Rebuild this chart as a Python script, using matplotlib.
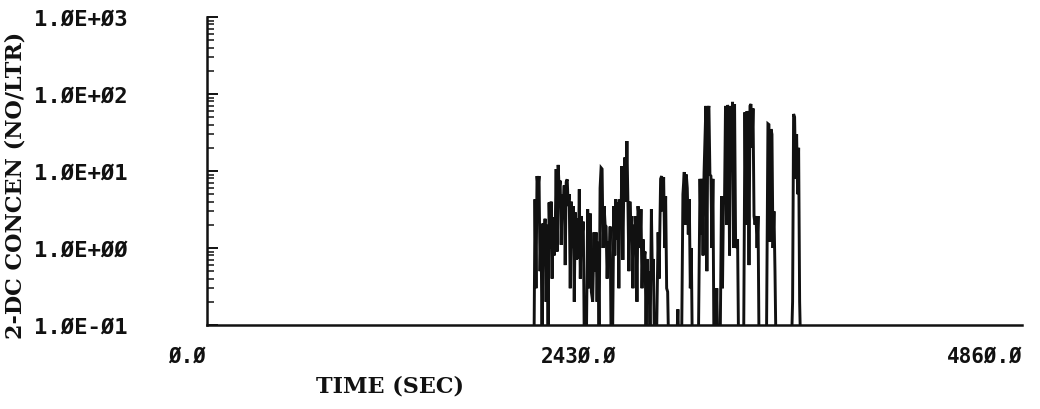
import matplotlib
matplotlib.use("Agg")
import matplotlib.pyplot as plt
import matplotlib.transforms as mtransforms
from matplotlib.ticker import LogLocator, NullFormatter, FixedLocator

# (time sec, 2-DC concentration no/ltr)
# values below 0.1 sit on the bottom axis
trace = [
    (0, 0.05), (1950, 0.05), (1956, 4.3), (1962, 0.3), (1968, 8.6), (1974, 6.0),
    (1980, 8.6), (1986, 0.5), (1992, 2.0), (1998, 0.05),
    (2004, 2.1), (2010, 1.2), (2016, 2.4), (2022, 0.2), (2028, 2.0), (2034, 0.05),
    (2040, 3.9), (2046, 1.0), (2052, 4.0), (2058, 0.4),
    (2064, 2.5), (2070, 0.8), (2076, 1.5), (2082, 10.6), (2088, 0.9), (2094, 12.0),
    (2100, 5.8), (2106, 7.5), (2112, 1.1), (2118, 5.0),
    (2124, 3.0), (2130, 6.5), (2136, 0.6), (2142, 7.2), (2148, 7.8), (2154, 3.5),
    (2160, 5.0), (2166, 0.3), (2172, 4.0), (2178, 1.0),
    (2184, 3.5), (2190, 0.2), (2196, 2.9), (2202, 0.7), (2208, 2.4), (2214, 0.72),
    (2220, 5.8), (2226, 0.4), (2232, 2.6), (2238, 1.5),
    (2244, 2.2), (2250, 0.05), (2262, 0.05), (2270, 3.2), (2278, 0.3), (2286, 2.8),
    (2292, 0.27), (2300, 0.2), (2308, 1.6), (2314, 0.5),
    (2320, 1.6), (2326, 0.2), (2332, 1.2), (2338, 0.05), (2344, 6.0), (2350, 11.0),
    (2356, 10.6), (2362, 1.0), (2368, 3.5), (2374, 2.0),
    (2380, 1.9), (2386, 0.4), (2392, 1.2), (2398, 0.6), (2404, 1.9), (2410, 0.05),
    (2418, 0.05), (2426, 3.5), (2432, 0.8), (2438, 4.3),
    (2444, 1.3), (2450, 3.9), (2456, 0.3), (2462, 4.3), (2468, 2.0), (2474, 11.6),
    (2480, 0.7), (2486, 8.0), (2492, 15.0), (2498, 4.0),
    (2504, 24.5), (2510, 3.96), (2516, 0.5), (2522, 4.0), (2528, 1.5), (2534, 2.6),
    (2540, 0.3), (2546, 2.0), (2552, 1.3), (2558, 2.6),
    (2564, 0.2), (2570, 3.5), (2576, 2.5), (2582, 1.0), (2588, 3.2), (2594, 0.3),
    (2600, 1.3), (2606, 0.72), (2612, 0.9), (2618, 0.1),
    (2624, 0.72), (2630, 0.27), (2636, 0.5), (2642, 0.05), (2650, 3.2), (2656, 0.4),
    (2662, 0.72), (2668, 0.05), (2680, 0.05), (2690, 1.6),
    (2696, 0.4), (2705, 7.9), (2711, 8.6), (2717, 3.0), (2723, 8.3), (2729, 1.0),
    (2735, 4.7), (2741, 0.3), (2747, 0.27), (2753, 0.05),
    (2800, 0.05), (2808, 0.16), (2814, 0.05), (2830, 0.05), (2838, 5.0), (2846, 9.7),
    (2852, 2.0), (2858, 9.0), (2864, 6.0), (2870, 1.5),
    (2876, 4.3), (2882, 0.3), (2888, 1.0), (2894, 0.05), (2930, 0.05), (2940, 7.9),
    (2946, 1.5), (2952, 7.9), (2958, 0.8), (2964, 9.5),
    (2975, 70.0), (2981, 0.5), (2987, 60.0), (2993, 70.0), (2999, 9.0), (3005, 8.6),
    (3011, 1.0), (3017, 7.9), (3023, 0.05), (3032, 0.05),
    (3040, 0.3), (3046, 0.05), (3060, 0.05), (3068, 4.7), (3074, 0.3), (3080, 4.7),
    (3086, 4.0), (3092, 70.0), (3098, 2.0), (3104, 72.0),
    (3110, 60.0), (3116, 0.8), (3122, 70.0), (3128, 10.0), (3134, 79.0), (3140, 1.0),
    (3146, 74.0), (3152, 1.3), (3158, 1.0), (3164, 1.3),
    (3170, 0.05), (3200, 0.05), (3208, 58.0), (3214, 2.0), (3220, 60.0), (3226, 50.0),
    (3232, 0.6), (3238, 70.0), (3244, 74.0), (3250, 20.0),
    (3256, 65.0), (3262, 2.6), (3268, 2.0), (3274, 2.6), (3280, 1.0), (3286, 2.6),
    (3292, 0.05), (3336, 0.05), (3345, 41.0), (3351, 40.0),
    (3357, 1.2), (3363, 35.0), (3369, 30.0), (3375, 1.0), (3381, 3.0), (3387, 0.5),
    (3393, 0.05), (3485, 0.05), (3492, 0.2), (3498, 55.0),
    (3504, 50.0), (3510, 8.0), (3516, 30.0), (3522, 5.0), (3528, 20.0), (3534, 0.2),
    (3540, 0.05), (4860, 0.05),
]
time_sec = [p[0] for p in trace]
concen = [p[1] for p in trace]

x_ticks = [0.0, 2430.0, 4860.0]
x_labels = ["\u00d8.\u00d8", "243\u00d8.\u00d8", "486\u00d8.\u00d8"]
y_ticks = [0.1, 1.0, 10.0, 100.0, 1000.0]
y_labels = ["1.\u00d8E-\u00d81", "1.\u00d8E+\u00d8\u00d8", "1.\u00d8E+\u00d81",
            "1.\u00d8E+\u00d82", "1.\u00d8E+\u00d83"]

fig = plt.figure(figsize=(10.4, 4.1), dpi=100)
ax = fig.add_axes([207 / 1040, 1 - 326 / 410, 815 / 1040, 308 / 410])

ax.plot(time_sec, concen, color="#111111", lw=2.1, solid_joinstyle="miter")

ax.set_yscale("log")
ax.set_xlim(0, 4860)
ax.set_ylim(0.1, 1000)

for side in ["top", "right"]:
    ax.spines[side].set_visible(False)
for side in ["left", "bottom"]:
    ax.spines[side].set_linewidth(1.8)
    ax.spines[side].set_color("#111111")

# y axis: decade ticks plus log minor ticks, pointing inward
ax.yaxis.set_major_locator(FixedLocator(y_ticks))
ax.set_yticklabels(y_labels)
ax.yaxis.set_minor_locator(LogLocator(base=10, subs=range(2, 10)))
ax.yaxis.set_minor_formatter(NullFormatter())
ax.tick_params(axis="y", which="major", direction="in", length=8, width=1.4,
               pad=57, labelsize=16, colors="#111111")
ax.tick_params(axis="y", which="minor", direction="in", length=5, width=1.1,
               colors="#111111")
for lab in ax.get_yticklabels():
    lab.set_fontfamily("DejaVu Sans Mono")
    lab.set_fontweight("bold")

# x axis: labels only, plus a small tick at the right end
ax.set_xticks(x_ticks)
ax.set_xticklabels(x_labels)
ax.xaxis.set_minor_locator(FixedLocator([4860.0]))
ax.tick_params(axis="x", which="major", length=0, pad=15, labelsize=15,
               colors="#111111")
ax.tick_params(axis="x", which="minor", direction="in", length=10, width=1.4,
               colors="#111111")
x_shift = [-20, -36, -37]
for lab, dx in zip(ax.get_xticklabels(), x_shift):
    lab.set_fontfamily("DejaVu Sans Mono")
    lab.set_fontweight("bold")
    lab.set_transform(lab.get_transform() +
                      mtransforms.ScaledTranslation(dx / 100, 0, fig.dpi_scale_trans))

ax.set_xlabel("TIME (SEC)", fontsize=16, fontweight="bold",
              fontfamily="DejaVu Serif", color="#111111")
ax.xaxis.set_label_coords((390 - 207) / 815, -(376 - 326) / 308)
ax.set_ylabel("2-DC CONCEN (NO/LTR)", fontsize=16, fontweight="bold",
              fontfamily="DejaVu Serif", color="#111111")
ax.yaxis.set_label_coords((27 - 207) / 815, (326 - 185) / 308)

fig.savefig("out.png", dpi=100, facecolor="white")
